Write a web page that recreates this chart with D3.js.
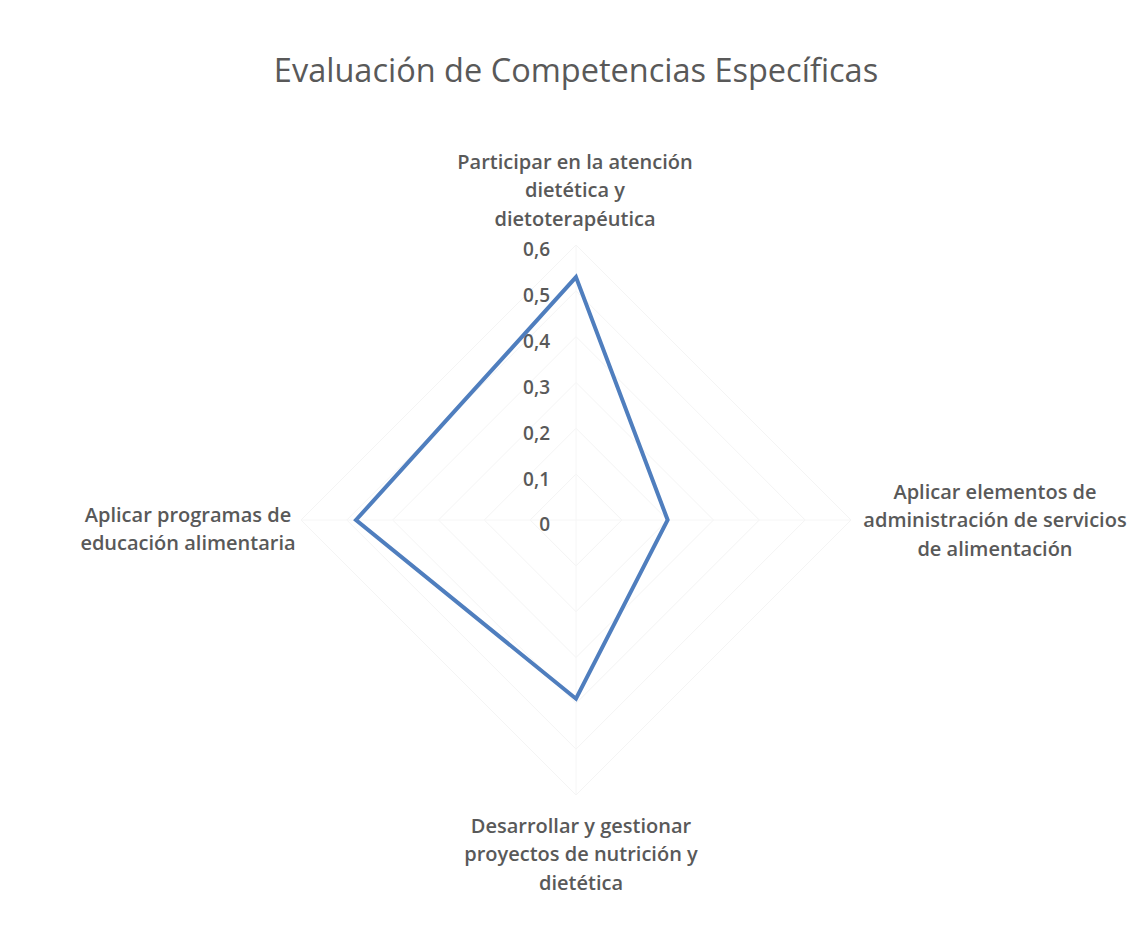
<!DOCTYPE html>
<html>
<head>
<meta charset="utf-8">
<script src="https://d3js.org/d3.v7.min.js"></script>
<style>
  body { margin: 0; background: #fff; }
  svg text { font-family: "Open Sans", "Noto Sans", sans-serif; fill: #595959; }
  .title { font-size: 32.5px; }
  .cat { font-size: 20px; font-weight: 600; }
  .tick { font-size: 19px; font-weight: 600; }
</style>
</head>
<body>
<svg id="chart" width="1133" height="941"></svg>
<script>
// Chart data
const categories = [
    ["Participar en la atención", "dietética y", "dietoterapéutica"],
    ["Aplicar elementos de", "administración de servicios", "de alimentación"],
    ["Desarrollar y gestionar", "proyectos de nutrición y", "dietética"],
    ["Aplicar programas de", "educación alimentaria"]
];
const values = [0.53, 0.20, 0.39, 0.48];
const ticks = [0, 0.1, 0.2, 0.3, 0.4, 0.5, 0.6];
const tickLabels = ["0", "0,1", "0,2", "0,3", "0,4", "0,5", "0,6"];

const cx = 576, cy = 520, radius = 275;

let svg = d3.select("#chart");

svg.append("text")
    .attr("class", "title")
    .attr("x", 576)
    .attr("y", 82)
    .attr("text-anchor", "middle")
    .text("Evaluación de Competencias Específicas");

let r = d3.scaleLinear().domain([0, 0.6]).range([0, radius]);
let angle = d3.scalePoint()
    .domain(d3.range(categories.length))
    .range([0, 2 * Math.PI * (categories.length - 1) / categories.length]);

let g = svg.append("g").attr("transform", "translate(" + cx + "," + cy + ")");

// faint grid (the scan shows it barely at all)
let grid = d3.lineRadial()
    .angle(function(d, i) { return angle(i); })
    .radius(function(d) { return r(d); })
    .curve(d3.curveLinearClosed);

g.append("g").selectAll("path")
    .data(ticks.slice(1))
    .enter().append("path")
    .attr("d", function(t) { return grid(categories.map(function() { return t; })); })
    .attr("fill", "none")
    .attr("stroke", "#f4f4f4")
    .attr("stroke-width", 1);

g.append("g").selectAll("line")
    .data(categories)
    .enter().append("line")
    .attr("x1", 0).attr("y1", 0)
    .attr("x2", function(d, i) { return r(0.6) * Math.sin(angle(i)); })
    .attr("y2", function(d, i) { return -r(0.6) * Math.cos(angle(i)); })
    .attr("stroke", "#f6f6f6");

// tick labels on the first axis
g.append("g").selectAll("text")
    .data(ticks)
    .enter().append("text")
    .attr("class", "tick")
    .attr("x", -26)
    .attr("y", function(d) { return -r(d); })
    .attr("dy", "0.6em")
    .attr("text-anchor", "end")
    .text(function(d, i) { return tickLabels[i]; });

// the series
let series = d3.lineRadial()
    .angle(function(d, i) { return angle(i); })
    .radius(function(d) { return r(d); })
    .curve(d3.curveLinearClosed);

g.append("path")
    .datum(values)
    .attr("d", series)
    .attr("fill", "none")
    .attr("stroke", "#4F7EBE")
    .attr("stroke-width", 4)
    .attr("stroke-linejoin", "miter");

// category labels
const labelPos = [
    { x: 575, y: 162 },
    { x: 995, y: 492 },
    { x: 581, y: 826 },
    { x: 188, y: 515 }
];

svg.append("g").selectAll("text")
    .data(categories)
    .enter().append("text")
    .attr("class", "cat")
    .attr("text-anchor", "middle")
    .attr("x", function(d, i) { return labelPos[i].x; })
    .attr("y", function(d, i) { return labelPos[i].y; })
    .each(function(lines, i) {
        let t = d3.select(this);
        lines.forEach(function(line, j) {
            t.append("tspan")
                .attr("x", labelPos[i].x)
                .attr("dy", j === 0 ? "0.35em" : "1.42em")
                .text(line);
        });
    });
</script>
</body>
</html>
